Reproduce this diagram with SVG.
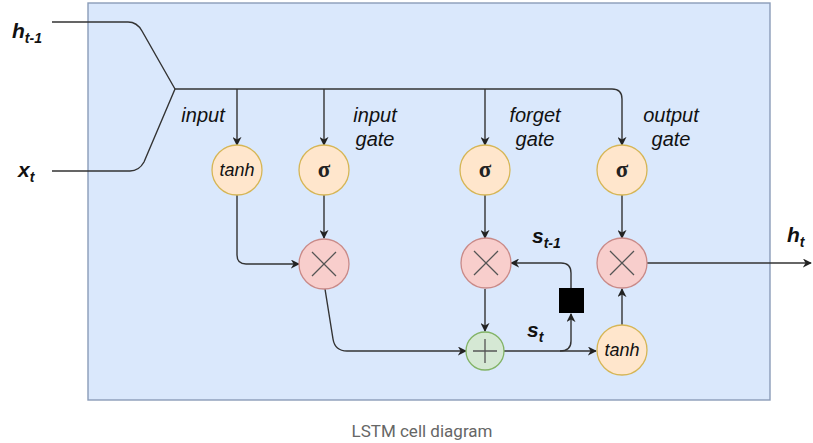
<svg xmlns="http://www.w3.org/2000/svg" width="813" height="443" viewBox="0 0 813 443">
<style>
.edge{fill:none;stroke:#333;stroke-width:1.4}
.lbl{font-family:"Liberation Sans",Arial,sans-serif;font-style:italic;font-size:20px;fill:#111}
.var{font-family:"Liberation Sans",Arial,sans-serif;font-style:italic;font-weight:bold;font-size:21px;fill:#111}
.sub{font-size:14px}
.act{fill:#ffe6cc;stroke:#d6b656;stroke-width:1.3}
.mul{fill:#f8cecc;stroke:#c98a88;stroke-width:1.3}
.add{fill:#d5e8d4;stroke:#82b366;stroke-width:1.3}
.sym{stroke:#555;stroke-width:1.3;fill:none}
.sig{font-family:"Liberation Serif","Times New Roman",serif;font-size:23px;font-weight:bold;fill:#222}
.tanh{font-family:"Liberation Sans",Arial,sans-serif;font-style:italic;font-size:18px;fill:#111}
</style>
<defs>
<marker id="arr" viewBox="0 0 10 10" refX="9" refY="5" markerWidth="9" markerHeight="9" markerUnits="userSpaceOnUse" orient="auto">
<path d="M0,0 L10,5 L0,10 L3,5 z" fill="#222"/>
</marker>
</defs>
<rect width="813" height="443" fill="#ffffff"/>
<rect id="cell" x="88" y="3" width="682" height="397" fill="#dae8fc" stroke="#8a9cb8" stroke-width="1.4"/>

<g id="connectors">
<path class="edge" d="M52,22 L128,22 Q137,22 142,31 L175,89"/>
<path class="edge" d="M52,171 L130,171 Q139,171 144,162 L175,89"/>
<path class="edge" d="M175,89 L612,89 Q622,89 622,99 L622,145" marker-end="url(#arr)"/>
<path class="edge" d="M237,89 L237,145" marker-end="url(#arr)"/>
<path class="edge" d="M324,89 L324,145" marker-end="url(#arr)"/>
<path class="edge" d="M485,89 L485,145" marker-end="url(#arr)"/>
<path class="edge" d="M237,195 L237,255 Q237,264 246,264 L299,264" marker-end="url(#arr)"/>
<path class="edge" d="M324,195 L324,238" marker-end="url(#arr)"/>
<path class="edge" d="M485,195 L485,238" marker-end="url(#arr)"/>
<path class="edge" d="M622,195 L622,238" marker-end="url(#arr)"/>
<path class="edge" d="M325,289 L333,339 Q335,351 347,351 L466,351" marker-end="url(#arr)"/>
<path class="edge" d="M485,289 L485,331" marker-end="url(#arr)"/>
<path class="edge" d="M504,351 L596,351" marker-end="url(#arr)"/>
<path class="edge" d="M560,351 Q571,351 571,341 L571,314" marker-end="url(#arr)"/>
<path class="edge" d="M571,288 L571,273 Q571,263 561,263 L511,263" marker-end="url(#arr)"/>
<path class="edge" d="M622,325 L622,289" marker-end="url(#arr)"/>
<path class="edge" d="M647,263 L811,263" marker-end="url(#arr)"/>
</g>

<g id="tanh_in"><circle class="act" cx="237" cy="170" r="25"/><text class="tanh" x="237" y="176" text-anchor="middle">tanh</text></g>
<g id="sigma_in"><circle class="act" cx="324" cy="170" r="25"/><text class="sig" x="324" y="177" text-anchor="middle">σ</text></g>
<g id="sigma_forget"><circle class="act" cx="485" cy="170" r="25"/><text class="sig" x="485" y="177" text-anchor="middle">σ</text></g>
<g id="sigma_out"><circle class="act" cx="622" cy="170" r="25"/><text class="sig" x="622" y="177" text-anchor="middle">σ</text></g>

<g id="mul_in"><circle class="mul" cx="324" cy="264" r="25"/><path class="sym" d="M312,252 L336,276 M336,252 L312,276"/></g>
<g id="mul_forget"><circle class="mul" cx="486" cy="263" r="25"/><path class="sym" d="M474,251 L498,275 M498,251 L474,275"/></g>
<g id="mul_out"><circle class="mul" cx="622" cy="263" r="25"/><path class="sym" d="M610,251 L634,275 M634,251 L610,275"/></g>
<g id="add"><circle class="add" cx="485" cy="351" r="19"/><path class="sym" d="M485,339 L485,363 M473,351 L497,351"/></g>
<g id="tanh_out"><circle class="act" cx="622" cy="350" r="25"/><text class="tanh" x="622" y="356" text-anchor="middle">tanh</text></g>
<g id="delay"><rect x="559" y="288" width="25" height="25" fill="#000"/></g>

<g id="labels">
<text class="lbl" x="203" y="122" text-anchor="middle">input</text>
<text class="lbl" x="375" y="122" text-anchor="middle">input</text>
<text class="lbl" x="375" y="146" text-anchor="middle">gate</text>
<text class="lbl" x="535" y="122" text-anchor="middle">forget</text>
<text class="lbl" x="535" y="146" text-anchor="middle">gate</text>
<text class="lbl" x="671" y="122" text-anchor="middle">output</text>
<text class="lbl" x="671" y="146" text-anchor="middle">gate</text>
<text class="var" x="12" y="38">h<tspan class="sub" dy="5">t-1</tspan></text>
<text class="var" x="18" y="177">x<tspan class="sub" dy="5">t</tspan></text>
<text class="var" x="787" y="242">h<tspan class="sub" dy="5">t</tspan></text>
<text class="var" x="532" y="243">s<tspan class="sub" dy="5">t-1</tspan></text>
<text class="var" x="527" y="337">s<tspan class="sub" dy="5">t</tspan></text>
</g>
<text id="caption" x="422" y="437" text-anchor="middle" font-family="Roboto,'Liberation Sans',sans-serif" font-size="17" fill="#666">LSTM cell diagram</text>
</svg>
